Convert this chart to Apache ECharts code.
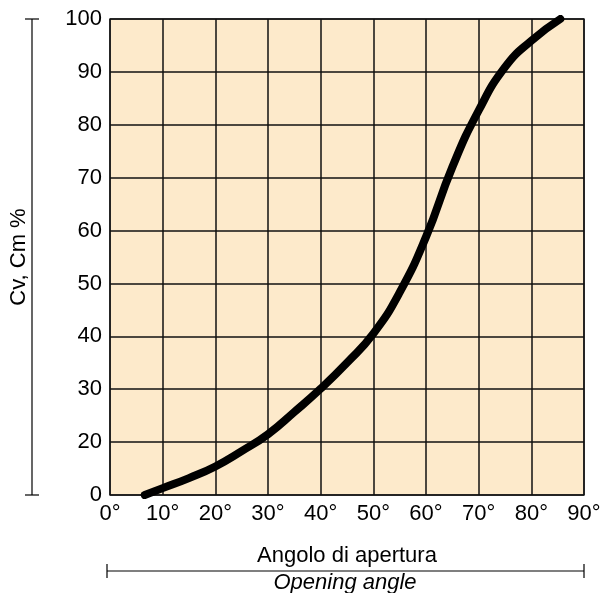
<!DOCTYPE html>
<html>
<head>
<meta charset="utf-8">
<script src="https://cdn.jsdelivr.net/npm/echarts@6/dist/echarts.min.js"></script>
<style>html,body{margin:0;padding:0;background:#fff}#c{width:606px;height:593px}</style>
</head>
<body>
<div id="c"></div>
<script>
// Opening angle (degrees)
var angles = [6.6, 10, 15, 20, 25, 30, 35, 40, 45, 50, 55, 60, 65, 70, 75, 80, 85.5];
// Cv, Cm % in axis units (bottom gridline is labelled "0")
var cvValues = [10, 11.3, 13.2, 15.4, 18.3, 21.5, 25.7, 30.1, 35.0, 40.5, 48.3, 58.8, 72.0, 82.7, 90.9, 95.9, 100];
var xTickSuffix = '°';
var yBottomLabel = '0';

var font = 'Liberation Sans, Arial, Helvetica, sans-serif';
var chart = echarts.init(document.getElementById('c'));
var pts = angles.map(function (a, i) { return [a, cvValues[i]]; });

chart.setOption({
  animation: false,
  grid: {
    left: 107, right: 22, top: 19, bottom: 98,
    show: true, backgroundColor: '#fdeacb', borderColor: '#333', borderWidth: 1.5
  },
  xAxis: {
    type: 'value', min: 0, max: 90, interval: 10,
    axisLine: { show: false }, axisTick: { show: false },
    splitLine: { show: true, lineStyle: { color: '#111', width: 1.5 } },
    axisLabel: { color: '#000', fontSize: 22, fontFamily: font, margin: 8,
      formatter: function (v) { return v + xTickSuffix; } },
    name: 'Angolo di apertura', nameLocation: 'middle', nameGap: 50,
    nameTextStyle: { color: '#000', fontSize: 22, fontFamily: font }
  },
  yAxis: {
    type: 'value', min: 10, max: 100, interval: 10,
    axisLine: { show: false }, axisTick: { show: false },
    splitLine: { show: true, lineStyle: { color: '#111', width: 1.5 } },
    axisLabel: { color: '#000', fontSize: 22, fontFamily: font, margin: 8,
      formatter: function (v) { return v === 10 ? yBottomLabel : String(v); } },
    name: 'Cv, Cm %', nameLocation: 'middle', nameGap: 80, nameRotate: 90,
    nameTextStyle: { color: '#000', fontSize: 22, fontFamily: font }
  },
  series: [{
    type: 'line', data: pts, smooth: 0.5, showSymbol: false,
    lineStyle: { color: '#000', width: 8, cap: 'round' },
    clip: true
  }],
  graphic: [
    { type: 'line', shape: { x1: 32, y1: 19, x2: 32, y2: 495 }, style: { stroke: '#000', lineWidth: 1.2 } },
    { type: 'line', shape: { x1: 25, y1: 19, x2: 39, y2: 19 }, style: { stroke: '#000', lineWidth: 1.2 } },
    { type: 'line', shape: { x1: 25, y1: 495, x2: 39, y2: 495 }, style: { stroke: '#000', lineWidth: 1.2 } },
    { type: 'line', shape: { x1: 107, y1: 571, x2: 584, y2: 571 }, style: { stroke: '#000', lineWidth: 1.2 } },
    { type: 'line', shape: { x1: 107, y1: 564, x2: 107, y2: 578 }, style: { stroke: '#000', lineWidth: 1.2 } },
    { type: 'line', shape: { x1: 584, y1: 564, x2: 584, y2: 578 }, style: { stroke: '#000', lineWidth: 1.2 } },
    { type: 'text', x: 345, y: 583, style: { text: 'Opening angle', fill: '#000', font: 'italic 22px ' + font, textAlign: 'center', textVerticalAlign: 'middle' } }
  ]
});
</script>
</body>
</html>
